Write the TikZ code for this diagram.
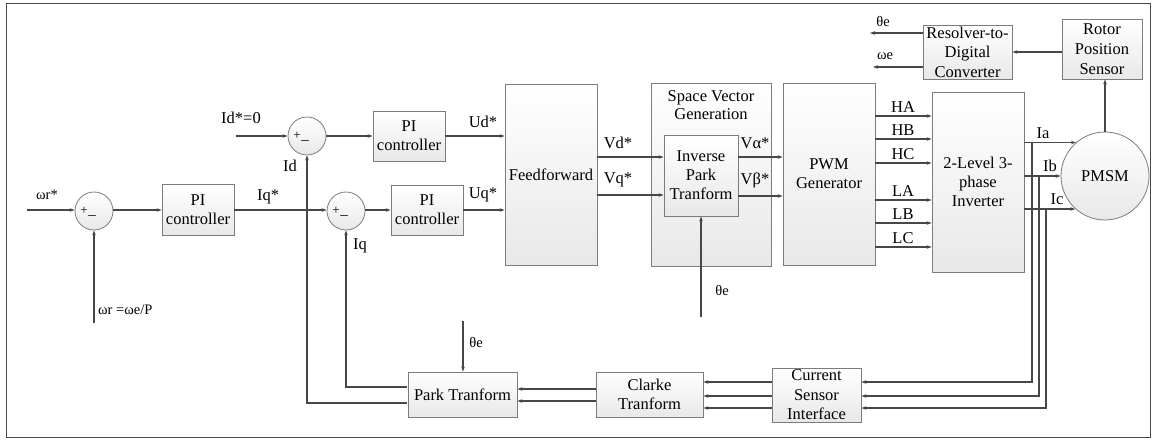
\documentclass[tikz,border=0pt]{standalone}
\usepackage{fontspec}
\setmainfont{Liberation Serif}
\usetikzlibrary{arrows.meta,calc}

\definecolor{linecol}{HTML}{474747}
\definecolor{boxedge}{HTML}{7C7C7C}
\definecolor{boxshade}{HTML}{E8E8E8}

\tikzset{
  blk/.style={draw=boxedge, line width=0.8pt, top color=white, bottom color=boxshade,
              inner sep=0pt, align=center, font=\fontsize{16.5}{19}\selectfont},
  sumj/.style={circle, draw=boxedge, line width=0.8pt, top color=white, bottom color=boxshade,
               minimum size=38pt, inner sep=0pt},
  sig/.style={draw=linecol, line width=1.1pt, -{Stealth[length=5pt,width=3.6pt]}},
  lab/.style={inner sep=0pt, font=\fontsize{16.5}{17}\selectfont},
  slab/.style={inner sep=0pt, font=\fontsize{14.5}{15}\selectfont},
  sgn/.style={inner sep=0pt, font=\fontsize{13}{13}\selectfont}
}

\begin{document}
\begin{tikzpicture}[x=1pt,y=-1pt]
\useasboundingbox (0,0) rectangle (1155,439);
\draw[draw=linecol, line width=1pt] (6,3) rectangle (1150,437);

% ---- blocks ----
\node[blk, minimum width=72pt, minimum height=51pt] (pi1) at (198,210) {PI\\controller};
\node[blk, minimum width=72pt, minimum height=50pt] (pid) at (409,136) {PI\\controller};
\node[blk, minimum width=72pt, minimum height=50pt] (piq) at (427,210) {PI\\controller};
\node[blk, minimum width=92pt, minimum height=181pt] (ff) at (551,174.5) {Feedforward};
\node[blk, minimum width=120pt, minimum height=183pt] (svg) at (711,174.5) {};
\node[lab, align=center, font=\fontsize{16.5}{17.5}\selectfont] (svgt) at (711,105) {Space Vector\\Generation};
\node[blk, minimum width=74pt, minimum height=81pt] (ipt) at (701,175.5) {Inverse\\Park\\Tranform};
\node[blk, minimum width=92pt, minimum height=182pt] (pwm) at (829,174) {PWM\\Generator};
\node[blk, minimum width=92pt, minimum height=180pt] (inv) at (978,182) {2-Level 3-\\phase\\Inverter};
\node[blk, circle, minimum size=88pt] (pm) at (1105,176) {PMSM};
\node[blk, minimum width=80pt, minimum height=60pt, font=\fontsize{16.5}{20}\selectfont] (rps) at (1102,49) {Rotor\\Position\\Sensor};
\node[blk, minimum width=89pt, minimum height=54pt, font=\fontsize{16.5}{19.5}\selectfont] (rdc) at (967.5,52) {Resolver-to-\\Digital\\Converter};
\node[blk, minimum width=109pt, minimum height=45pt] (park) at (462.5,394.5) {Park Tranform};
\node[blk, minimum width=107pt, minimum height=45pt] (clk) at (649.5,394.5) {Clarke\\Tranform};
\node[blk, minimum width=89pt, minimum height=54pt, font=\fontsize{16.5}{19.5}\selectfont] (csi) at (816.5,395) {Current\\Sensor\\Interface};

% ---- summing junctions ----
\node[sumj] (s1) at (94,211) {};
\node[sumj] (sd) at (307,136) {};
\node[sumj] (sq) at (346,211) {};
\foreach \s in {s1,sd,sq}{
  \node[sgn] (\s p) at ($(\s)+(-10,0)$) {+};
  \node[sgn, font=\fontsize{15}{15}\selectfont] (\s m) at ($(\s)+(-2,7)$) {–};
}

% ---- speed loop ----
\coordinate (wrin) at (27,210);
\draw[sig] (wrin) -- (s1.west |- wrin);
\node[slab] (lwr) at (47,195) {ωr*};
\coordinate (wrfb) at (94,323);
\draw[sig] (wrfb) -- (s1.south);
\node[slab, anchor=west] (lwfb) at (98,310) {ωr =ωe/P};
\draw[sig] (s1.east |- pi1.west) -- (pi1.west);
\draw[sig] (pi1.east) -- (sq.west |- pi1.east);
\node[lab] (liq) at (268,197) {Iq*};

% ---- current loops ----
\coordinate (idin) at (236,136);
\draw[sig] (idin) -- (sd.west);
\node[lab] (lid0) at (241,118) {Id*=0};
\draw[sig] (sd.east) -- (pid.west);
\draw[sig] (sq.east |- piq.west) -- (piq.west);
\draw[sig] (pid.east) -- (pid.east -| ff.west);
\node[lab] (lud) at (483,122) {Ud*};
\draw[sig] (piq.east) -- (piq.east -| ff.west);
\node[lab] (luq) at (483,195) {Uq*};

% ---- feedforward to space vector generation ----
\draw[sig] (ff.east |- 0,157) -- (ipt.west |- 0,157);
\node[lab] (lvd) at (618,143) {Vd*};
\draw[sig] (ff.east |- 0,195) -- (ipt.west |- 0,195);
\node[lab] (lvq) at (618,180) {Vq*};
\draw[sig] (ipt.east |- 0,157) -- (pwm.west |- 0,157);
\node[lab] (lva) at (755,143) {Vα*};
\draw[sig] (ipt.east |- 0,196) -- (pwm.west |- 0,196);
\node[lab] (lvb) at (755,180) {Vβ*};
\coordinate (thi) at (701,317);
\draw[sig] (thi) -- (thi |- ipt.south);
\node[slab] (lthi) at (722,290) {θe};

% ---- gate signals ----
\foreach \yy/\tx in {116/HA,139/HB,163/HC,200/LA,223/LB,247/LC}{
  \draw[sig] (pwm.east |- 0,\yy) -- (inv.west |- 0,\yy);
  \node[lab] (l\tx) at (903,\yy-9) {\tx};
}

% ---- phase currents ----
\draw[sig] (inv.east |- pm.131.4) -- (pm.131.4);
\draw[sig] (inv.east |- pm.west) -- (pm.west);
\draw[sig] (inv.east |- pm.228.6) -- (pm.228.6);
\node[lab] (lia) at (1043,133) {Ia};
\node[lab] (lib) at (1050,166) {Ib};
\node[lab] (lic) at (1057,199) {Ic};
\coordinate (ja) at (1032,143);
\coordinate (jb) at (1039,176);
\coordinate (jc) at (1046,209);
\draw[sig] (ja) |- (csi.east |- 0,382);
\draw[sig] (jb) |- (csi.east |- 0,396);
\draw[sig] (jc) |- (csi.east |- 0,408);

% ---- measurement chain ----
\foreach \yy in {382,396,408}{
  \draw[sig] (csi.west |- 0,\yy) -- (clk.east |- 0,\yy);
}
\draw[sig] (clk.west |- 0,389) -- (park.east |- 0,389);
\draw[sig] (clk.west |- 0,401) -- (park.east |- 0,401);
\coordinate (thp) at (463,321);
\draw[sig] (thp) -- (thp |- park.north);
\node[slab] (lthp) at (476,342) {θe};
\draw[sig] ([xshift=-1pt]park.west |- 0,387) -| (sq.south);
\draw[sig] ([xshift=-1pt]park.west |- 0,403) -| (sd.south);
\node[lab] (lidf) at (290,166) {Id};
\node[lab] (liqf) at (360,246) {Iq};

% ---- rotor position ----
\draw[sig] (pm.north) -- (pm.north |- rps.south);
\draw[sig] (rps.west |- 0,52) -- (rdc.east |- 0,52);
\coordinate (tho) at (870,33);
\coordinate (weo) at (873,67);
\draw[sig] (rdc.west |- tho) -- (tho);
\draw[sig] (rdc.west |- weo) -- (weo);
\node[slab] (ltho) at (883,22) {θe};
\node[slab] (lweo) at (885,56) {ωe};
\end{tikzpicture}
\end{document}
